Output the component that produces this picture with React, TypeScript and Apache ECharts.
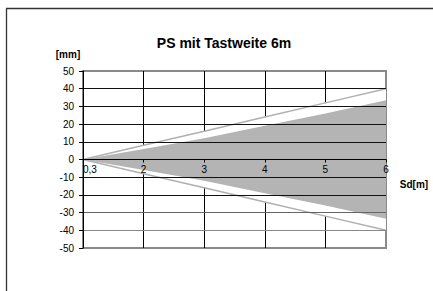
import React, { useEffect, useRef } from "react";
import * as echarts from "echarts";

const categories = ["0,3", "2", "3", "4", "5", "6"];
const outerUpper = [0, 8, 16, 24, 32, 40];
const outerLower = [0, -8, -16, -24, -32, -40];
const innerUpper = [0, 6, 12, 19, 26, 33.5];
const innerLower = [0, -6, -12, -19, -26, -33.5];
const yTicks = { min: -50, max: 50, interval: 10 };

const FONT = "'Liberation Sans', Arial, sans-serif";
const GRID_H = 177;

export default function App() {
  const ref = useRef<HTMLDivElement>(null);
  useEffect(() => {
    if (!ref.current) return;
    const chart = echarts.init(ref.current, null, { renderer: "svg" });
    const catData = categories.map((c, i) =>
      i === 0 ? { value: c, textStyle: { align: "left" } } : c
    );
    chart.setOption({
      animation: false,
      backgroundColor: "#ffffff",
      textStyle: { fontFamily: FONT },
      title: {
        text: "PS mit Tastweite 6m",
        left: 219,
        top: 31,
        textAlign: "center",
        textStyle: { fontSize: 14, fontWeight: "bold", color: "#000", fontFamily: FONT },
      },
      grid: {
        left: 83,
        top: 71,
        width: 303,
        height: GRID_H,
        show: true,
        borderColor: "#8a8a8a",
        borderWidth: 2,
        backgroundColor: "transparent",
      },
      xAxis: [
        {
          type: "category",
          data: categories,
          boundaryGap: false,
          position: "top",
          axisLine: { show: false, onZero: false },
          axisTick: { show: false },
          axisLabel: { show: false },
          splitLine: {
            show: true,
            showMinLine: false,
            showMaxLine: false,
            lineStyle: { color: "#000", width: 1 },
          },
          z: 0,
        },
        {
          type: "category",
          data: catData,
          boundaryGap: false,
          position: "bottom",
          offset: -GRID_H / 2,
          axisLine: { show: true, onZero: false, lineStyle: { color: "#000", width: 1 } },
          axisTick: { show: true, length: 3, lineStyle: { color: "#000" } },
          axisLabel: { fontSize: 10, color: "#000", margin: 5, fontFamily: FONT },
          splitLine: { show: false },
          z: 10,
        },
      ],
      yAxis: {
        type: "value",
        min: yTicks.min,
        max: yTicks.max,
        interval: yTicks.interval,
        axisLine: { show: true, onZero: false, lineStyle: { color: "#000", width: 1 } },
        axisTick: { show: true, length: 4, lineStyle: { color: "#000" } },
        axisLabel: { fontSize: 10, color: "#000", margin: 9, fontFamily: FONT },
        splitLine: {
          show: true,
          showMinLine: false,
          showMaxLine: false,
          lineStyle: {
            color: ["#888", "#666", "#111", "#111", "#111", "#111", "#111", "#111", "#111", "#666", "#888"],
            width: 1,
          },
        },
        z: 10,
      },
      graphic: [
        {
          type: "line",
          shape: { x1: 6.5, y1: 8.5, x2: 6.5, y2: 291 },
          style: { stroke: "#333", lineWidth: 1.3 },
        },
        {
          type: "line",
          shape: { x1: 6, y1: 8.5, x2: 433, y2: 8.5 },
          style: { stroke: "#333", lineWidth: 1.3 },
        },
        {
          type: "text",
          x: 68,
          y: 54,
          style: {
            text: "[mm]",
            fontSize: 10,
            fontWeight: "bold",
            fill: "#000",
            fontFamily: FONT,
            align: "center",
            verticalAlign: "middle",
          },
        },
        {
          type: "text",
          x: 414,
          y: 184,
          style: {
            text: "Sd[m]",
            fontSize: 10,
            fontWeight: "bold",
            fill: "#000",
            fontFamily: FONT,
            align: "center",
            verticalAlign: "middle",
          },
        },
      ],
      series: [
        {
          type: "line",
          xAxisIndex: 0,
          data: outerUpper,
          symbol: "none",
          lineStyle: { color: "#b0b0b0", width: 1.5 },
          areaStyle: { color: "#ffffff", opacity: 1 },
          z: 2,
        },
        {
          type: "line",
          xAxisIndex: 0,
          data: outerLower,
          symbol: "none",
          lineStyle: { color: "#b0b0b0", width: 1.5 },
          areaStyle: { color: "#ffffff", opacity: 1 },
          z: 2,
        },
        {
          type: "line",
          xAxisIndex: 0,
          data: innerUpper,
          symbol: "none",
          lineStyle: { width: 0 },
          areaStyle: { color: "#b4b4b4", opacity: 1 },
          z: 3,
        },
        {
          type: "line",
          xAxisIndex: 0,
          data: innerLower,
          symbol: "none",
          lineStyle: { width: 0 },
          areaStyle: { color: "#b4b4b4", opacity: 1 },
          z: 3,
        },
      ],
    });
    return () => chart.dispose();
  }, []);
  return (
    <div
      ref={ref}
      style={{ position: "fixed", left: 0, top: 0, width: 433, height: 291 }}
    />
  );
}
